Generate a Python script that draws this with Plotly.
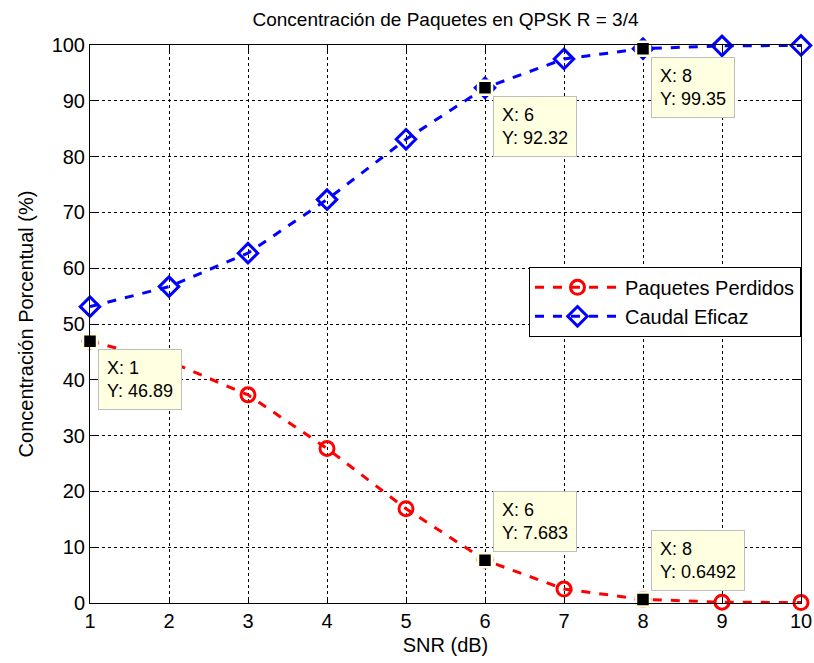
import plotly.graph_objects as go

# SNR values (dB)
snr = [1, 2, 3, 4, 5, 6, 7, 8, 9, 10]

# Percentage of lost packets and effective throughput per SNR
paquetes_perdidos = [46.89, 43.3, 37.3, 27.7, 16.9, 7.683, 2.5, 0.6492, 0.15, 0.08]
caudal_eficaz = [53.11, 56.7, 62.7, 72.3, 83.1, 92.32, 97.5, 99.35, 99.85, 99.92]

# Data tips: (series index, point index, box placed below the point?)
tips = [
    (0, 0, True),
    (0, 5, False),
    (0, 7, False),
    (1, 5, True),
    (1, 7, True),
]

x_ticks = list(range(1, 11))
y_ticks = list(range(0, 101, 10))

FONT = "Liberation Sans, Arial, Helvetica, sans-serif"
AXFONT = 20
TIP_BG = "#FFFFE1"
TIP_BORDER = "#BDBDBD"

series = [paquetes_perdidos, caudal_eficaz]

fig = go.Figure()

fig.add_trace(go.Scatter(
    x=snr, y=paquetes_perdidos, name="Paquetes Perdidos",
    mode="lines+markers",
    line=dict(color="#FF0000", width=3, dash="dash"),
    marker=dict(symbol="circle-open", size=14, color="#FF0000",
                line=dict(width=3, color="#FF0000")),
    cliponaxis=False,
))
fig.add_trace(go.Scatter(
    x=snr, y=caudal_eficaz, name="Caudal Eficaz",
    mode="lines+markers",
    line=dict(color="#0000FF", width=3, dash="dash"),
    marker=dict(symbol="diamond-open", size=15, color="#0000FF",
                line=dict(width=3, color="#0000FF")),
    cliponaxis=False,
))

# Data tip markers and their boxes
tip_x = [snr[i] for s, i, _ in tips]
tip_y = [series[s][i] for s, i, _ in tips]

fig.add_trace(go.Scatter(
    x=tip_x, y=tip_y, mode="markers", showlegend=False, hoverinfo="skip",
    marker=dict(symbol="square", size=14, color="black",
                line=dict(width=2.5, color=TIP_BG)),
    cliponaxis=False,
))


def fmt(v):
    return f"{v:.4g}"


for (s, i, below), xv, yv in zip(tips, tip_x, tip_y):
    fig.add_annotation(
        x=xv, y=yv, xref="x", yref="y",
        text=f"X: {xv}<br>Y: {fmt(yv)}",
        showarrow=False, align="left",
        xanchor="left", yanchor="top" if below else "bottom",
        xshift=8, yshift=-8 if below else 8,
        font=dict(family=FONT, size=18, color="black"),
        bgcolor=TIP_BG, bordercolor=TIP_BORDER, borderwidth=1, borderpad=8,
    )

axis_common = dict(
    showline=True, linecolor="black", linewidth=1, mirror="ticks",
    ticks="inside", ticklen=6, tickcolor="black", tickwidth=1,
    showgrid=True, gridcolor="black", gridwidth=1, griddash="dot",
    zeroline=False, automargin=False,
    tickfont=dict(family=FONT, size=AXFONT, color="black"),
)

fig.update_xaxes(
    range=[1, 10], tickvals=x_ticks, ticktext=[str(t) for t in x_ticks],
    title=dict(text="SNR (dB)", font=dict(family=FONT, size=AXFONT, color="black"),
               standoff=6),
    **axis_common,
)
fig.update_yaxes(
    range=[0, 100], tickvals=y_ticks, ticktext=[str(t) for t in y_ticks],
    title=dict(text="Concentración Porcentual (%)",
               font=dict(family=FONT, size=AXFONT, color="black"), standoff=12),
    **axis_common,
)

fig.update_layout(
    width=814, height=663,
    margin=dict(l=90, r=13, t=45, b=60),
    paper_bgcolor="white", plot_bgcolor="white",
    title=dict(text="Concentración de Paquetes en QPSK R = 3/4",
               x=0.5, xref="paper", xanchor="center",
               y=1 - 19 / 663, yref="container", yanchor="middle",
               font=dict(family=FONT, size=19, color="black")),
    legend=dict(x=1, xanchor="right", y=0.6025, yanchor="top",
                bgcolor="white", bordercolor="black", borderwidth=1,
                font=dict(family=FONT, size=AXFONT, color="black"),
                itemwidth=85, tracegroupgap=0),
    showlegend=True,
)

fig.write_html("out.html")
